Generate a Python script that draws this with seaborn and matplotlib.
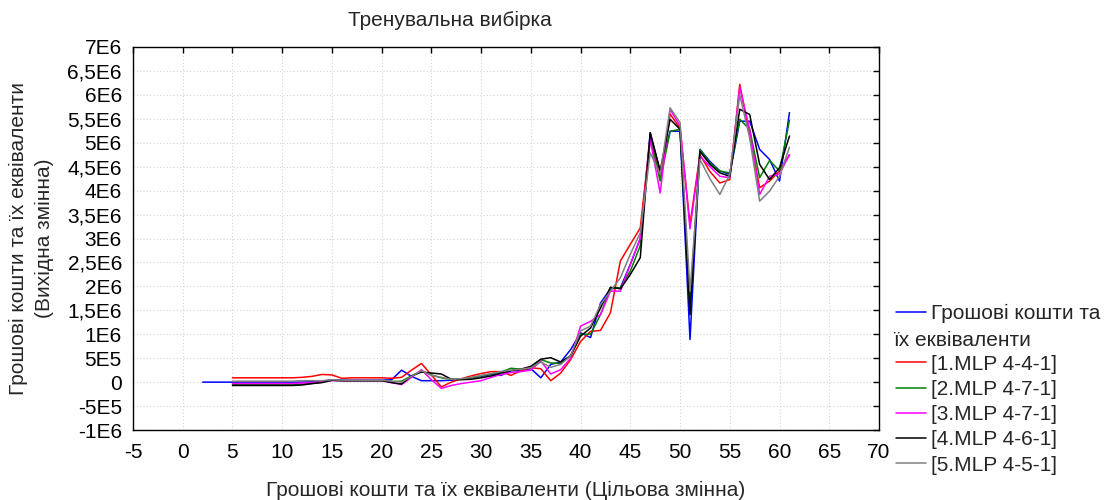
import numpy as np
import pandas as pd
import seaborn as sns
import matplotlib
matplotlib.use("Agg")
import matplotlib.pyplot as plt
from matplotlib.lines import Line2D

# values in millions (E6)
x_target = [2] + list(range(5, 62))
target = [0.0,
          0.0, 0.0, 0.0, 0.0, 0.0, 0.0, 0.0, 0.0, 0.01, 0.02,
          0.05, 0.04, 0.04, 0.04, 0.04, 0.04, 0.05, 0.25, 0.12, 0.03,
          0.03, 0.03, 0.04, 0.06, 0.09, 0.12, 0.16, 0.14, 0.24, 0.24,
          0.28, 0.09, 0.37, 0.42, 0.68, 1.03, 0.93, 1.65, 1.95, 1.97,
          2.46, 3.0, 5.21, 4.4, 5.24, 5.24, 0.89, 4.86, 4.61, 4.41,
          4.34, 5.45, 5.45, 4.86, 4.65, 4.2, 5.63]

x_models = list(range(5, 62))
mlp1 = [0.09, 0.09, 0.09, 0.09, 0.09, 0.09, 0.09, 0.1, 0.12, 0.16,
        0.15, 0.08, 0.09, 0.09, 0.09, 0.09, 0.08, 0.1, 0.25, 0.39,
        0.15, -0.1, 0.0, 0.07, 0.13, 0.18, 0.22, 0.22, 0.14, 0.24,
        0.3, 0.28, 0.03, 0.19, 0.47, 0.85, 1.06, 1.08, 1.45, 2.53,
        2.88, 3.22, 5.1, 4.27, 5.6, 5.3, 3.3, 4.75, 4.4, 4.16,
        4.23, 6.22, 5.17, 4.06, 4.2, 4.41, 4.75]
mlp2 = [-0.05, -0.05, -0.05, -0.05, -0.05, -0.05, -0.05, -0.04, -0.03, 0.0,
        0.04, 0.03, 0.03, 0.03, 0.03, 0.03, 0.01, 0.02, 0.13, 0.23,
        0.15, 0.09, 0.06, 0.06, 0.09, 0.13, 0.17, 0.21, 0.29, 0.27,
        0.31, 0.47, 0.4, 0.39, 0.55, 1.0, 1.0, 1.41, 1.97, 1.97,
        2.32, 2.85, 5.1, 4.2, 5.24, 5.28, 1.63, 4.86, 4.58, 4.41,
        4.37, 5.49, 5.28, 4.27, 4.63, 4.41, 5.47]
mlp3 = [-0.03, -0.03, -0.03, -0.03, -0.03, -0.03, -0.03, -0.02, -0.01, 0.01,
        0.03, 0.03, 0.03, 0.03, 0.03, 0.03, -0.01, -0.05, 0.1, 0.26,
        0.05, -0.13, -0.07, -0.03, 0.0, 0.03, 0.1, 0.16, 0.2, 0.22,
        0.25, 0.44, 0.17, 0.26, 0.5, 1.17, 1.27, 1.41, 1.9, 1.9,
        2.46, 3.0, 5.07, 3.95, 5.7, 5.35, 3.2, 4.72, 4.5, 4.3,
        4.27, 6.15, 5.28, 3.92, 4.3, 4.35, 4.75]
mlp4 = [-0.07, -0.07, -0.07, -0.07, -0.07, -0.07, -0.07, -0.06, -0.03, -0.01,
        0.04, 0.03, 0.03, 0.03, 0.03, 0.03, -0.01, -0.04, 0.13, 0.21,
        0.19, 0.17, 0.06, 0.05, 0.06, 0.09, 0.13, 0.19, 0.24, 0.27,
        0.33, 0.48, 0.51, 0.42, 0.55, 0.96, 1.13, 1.55, 1.98, 1.95,
        2.25, 2.6, 5.21, 4.41, 5.49, 5.28, 1.41, 4.82, 4.55, 4.37,
        4.3, 5.7, 5.59, 4.55, 4.23, 4.48, 5.14]
mlp5 = [0.02, 0.02, 0.02, 0.02, 0.02, 0.02, 0.02, 0.03, 0.03, 0.03,
        0.05, 0.04, 0.04, 0.04, 0.04, 0.04, 0.02, 0.0, 0.12, 0.24,
        0.14, 0.1, 0.06, 0.07, 0.1, 0.14, 0.18, 0.22, 0.25, 0.27,
        0.3, 0.42, 0.31, 0.37, 0.55, 1.07, 1.17, 1.62, 1.9, 2.18,
        2.67, 3.12, 4.79, 4.34, 5.73, 5.42, 1.9, 4.65, 4.25, 3.92,
        4.34, 6.0, 5.1, 3.78, 3.99, 4.3, 4.91]

names = ["Грошові кошти та їх еквіваленти", "[1.MLP 4-4-1]", "[2.MLP 4-7-1]",
         "[3.MLP 4-7-1]", "[4.MLP 4-6-1]", "[5.MLP 4-5-1]"]
colors = ["#0000ff", "#ff0000", "#008000", "#ff00ff", "#000000", "#808080"]

y_ticks = np.arange(-1.0, 7.01, 0.5)
y_labels = ["-1E6", "-5E5", "0", "5E5", "1E6", "1,5E6", "2E6", "2,5E6", "3E6",
            "3,5E6", "4E6", "4,5E6", "5E6", "5,5E6", "6E6", "6,5E6", "7E6"]
x_ticks = list(range(-5, 71, 5))

frames = [pd.DataFrame({"x": x_target, "y": np.array(target) * 1e6, "series": names[0]})]
for nm, vals in zip(names[1:], [mlp1, mlp2, mlp3, mlp4, mlp5]):
    frames.append(pd.DataFrame({"x": x_models, "y": np.array(vals) * 1e6, "series": nm}))
df = pd.concat(frames, ignore_index=True)

sns.set_style("white")
plt.rcParams['font.family'] = ['Liberation Sans', 'DejaVu Sans']
fs = 15

fig = plt.figure(figsize=(11.08, 5), dpi=100)
ax = fig.add_axes([133 / 1108, 70 / 500, (879 - 133) / 1108, (430 - 47) / 500])

sns.lineplot(data=df, x="x", y="y", hue="series", hue_order=names,
             palette=dict(zip(names, colors)), estimator=None, sort=False,
             linewidth=1.1, legend=False, ax=ax)

ax.set_xlim(-5, 70)
ax.set_ylim(-1e6, 7e6)
ax.set_xticks(x_ticks)
ax.set_xticklabels([str(t) for t in x_ticks])
ax.set_yticks(y_ticks * 1e6)
ax.set_yticklabels(y_labels)
ax.tick_params(direction="in", length=4, width=1, top=True, right=True,
               labelsize=fs, colors="black")
ax.tick_params(axis="x", pad=9)
ax.tick_params(axis="y", pad=8)
ax.grid(True, linestyle=(0, (1, 2)), color="#d4d4d4", linewidth=0.8)
for sp in ax.spines.values():
    sp.set_color("black")
    sp.set_linewidth(1)

ax.set_xlabel("Грошові кошти та їх еквіваленти (Цільова змінна)", fontsize=fs, labelpad=14)
ax.set_ylabel("Грошові кошти та їх еквіваленти\n(Вихідна змінна)", fontsize=fs,
              labelpad=10, linespacing=1.45)
fig.text(450 / 1108, 1 - 20 / 500, "Тренувальна вибірка", ha="center", va="center", fontsize=fs)

# legend: first label wraps onto a second line under the handle
handles = [Line2D([], [], color=colors[0], lw=1.1),
           Line2D([], [], color="none", lw=0)]
handles += [Line2D([], [], color=c, lw=1.1) for c in colors[1:]]
labels = ["Грошові кошти та", " "] + names[1:]
leg = fig.legend(handles, labels, loc="upper left", bbox_to_anchor=(896 / 1108, 1 - 304 / 500),
                 frameon=False, handlelength=1.45, handletextpad=0.25,
                 labelspacing=0.3, fontsize=fs, borderaxespad=0, borderpad=0)
fig.text(893 / 1108, 1 - 340 / 500, "їх еквіваленти", ha="left", va="center", fontsize=fs)

fig.savefig("out.png", dpi=100)
